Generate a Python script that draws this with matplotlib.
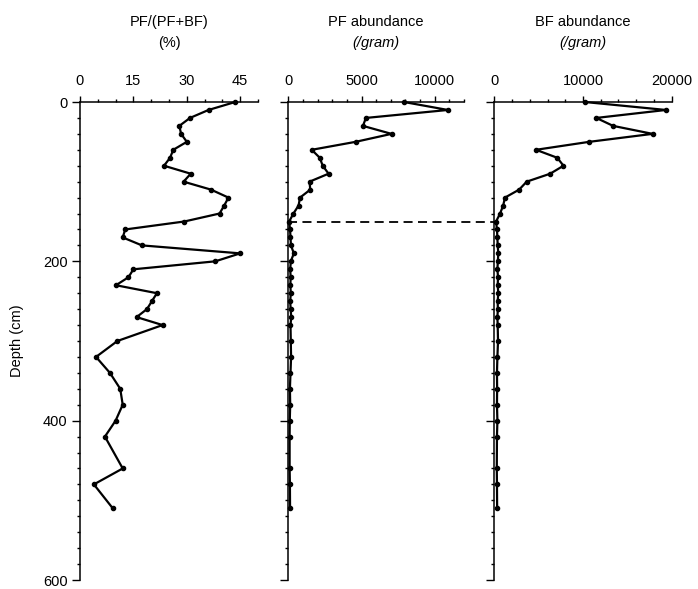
import matplotlib
matplotlib.use("Agg")
import matplotlib.pyplot as plt
from matplotlib.ticker import MultipleLocator
from matplotlib.transforms import blended_transform_factory

plt.rcParams['font.family'] = ['Liberation Sans', 'DejaVu Sans']

# sample depths (cm)
depth = [0, 10, 20, 30, 40, 50, 60, 70, 80, 90, 100, 110, 120, 130, 140, 150,
         160, 170, 180, 190, 200, 210, 220, 230, 240, 250, 260, 270, 280,
         300, 320, 340, 360, 380, 400, 420, 460, 480, 510]

# PF/(PF+BF) in %
pf_ratio = [43.6, 36.1, 30.9, 27.9, 28.4, 30.0, 26.2, 25.3, 23.6, 31.1, 29.1,
            36.8, 41.7, 40.5, 39.2, 29.3, 12.7, 12.0, 17.4, 45.0, 38.0, 15.0,
            13.6, 10.1, 21.6, 20.2, 18.8, 15.9, 23.2, 10.5, 4.5, 8.4, 11.3,
            12.0, 10.0, 7.0, 12.0, 3.9, 9.2]

# PF abundance (/gram)
pf_abund = [7900, 10900, 5300, 5100, 7050, 4600, 1600, 2150, 2350, 2750, 1450,
            1500, 800, 700, 350, 60, 120, 150, 180, 380, 170, 130, 160, 140,
            170, 130, 160, 200, 150, 170, 190, 150, 110, 130, 100, 90, 90,
            110, 120]

# BF abundance (/gram)
bf_abund = [10200, 19350, 11500, 13400, 17850, 10700, 4700, 7100, 7800, 6300,
            3650, 2800, 1200, 1000, 650, 200, 300, 350, 380, 450, 400, 350,
            420, 380, 450, 380, 400, 350, 380, 420, 350, 300, 320, 300, 350,
            300, 280, 300, 320]

panels = [
    (pf_ratio, 'PF/(PF+BF)', '(%)', False, 50, 15, 5),
    (pf_abund, 'PF abundance', '(/gram)', True, 12000, 5000, 1000),
    (bf_abund, 'BF abundance', '(/gram)', True, 20000, 10000, 2000),
]

W, H = 698, 589
fig = plt.figure(figsize=(W / 100, H / 100), dpi=100)

lefts = [80, 288.3, 494.3]
rights = [258, 464, 671.7]
top_px, bot_px = 102, 580

axes = []
for i, (vals, t1, t2, ital, xmax, major, minor) in enumerate(panels):
    ax = fig.add_axes([lefts[i] / W, 1 - bot_px / H,
                       (rights[i] - lefts[i]) / W, (bot_px - top_px) / H])
    ax.plot(vals, depth, color='black', lw=1.6, marker='o', ms=3,
            clip_on=False, zorder=3)
    ax.set_xlim(0, xmax)
    ax.set_ylim(600, 0)
    ax.spines['right'].set_visible(False)
    ax.spines['bottom'].set_visible(False)
    ax.spines['left'].set_linewidth(1.1)
    ax.spines['top'].set_linewidth(1.1)
    ax.xaxis.tick_top()
    ax.xaxis.set_major_locator(MultipleLocator(major))
    ax.xaxis.set_minor_locator(MultipleLocator(minor))
    ax.yaxis.set_major_locator(MultipleLocator(200))
    ax.yaxis.set_minor_locator(MultipleLocator(20))
    ax.tick_params(axis='x', which='major', direction='out', length=4,
                   width=1, pad=6, labelsize=10.5)
    ax.tick_params(axis='x', which='minor', direction='out', length=2, width=1)
    ax.tick_params(axis='y', which='major', direction='out', length=6,
                   width=1, pad=3, labelsize=10.5)
    ax.tick_params(axis='y', which='minor', direction='out', length=2, width=1)
    if i > 0:
        ax.set_yticklabels([])
    cx = (lefts[i] + rights[i]) / 2 / W
    fig.text(cx, 1 - 22 / H, t1, ha='center', va='center', fontsize=10.5)
    fig.text(cx, 1 - 43 / H, t2, ha='center', va='center', fontsize=10.5,
             style='italic' if ital else 'normal')
    axes.append(ax)

axes[0].set_ylabel('Depth (cm)', fontsize=10.5)
axes[0].yaxis.set_label_coords((24 - lefts[0]) / (rights[0] - lefts[0]),
                               (bot_px - 341) / (bot_px - top_px))

# dashed line at 150 cm across the two abundance panels
tr = blended_transform_factory(fig.transFigure, axes[1].transData)
axes[1].plot([288 / W, 667 / W], [150, 150], transform=tr, color='black',
             lw=1.3, ls=(0, (5, 3)), clip_on=False, zorder=2)

fig.savefig('out.png', dpi=100)
